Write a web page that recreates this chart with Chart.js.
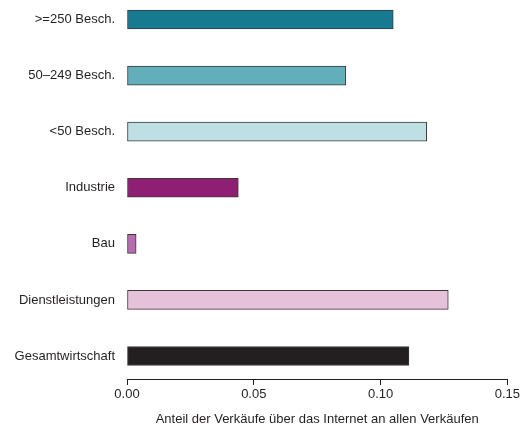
<!DOCTYPE html>
<html>
<head>
<meta charset="utf-8">
<script src="https://cdn.jsdelivr.net/npm/chart.js@4/dist/chart.umd.min.js"></script>
<style>
  html, body { margin: 0; padding: 0; background: #fff; }
  #wrap { width: 522px; height: 428px; }
</style>
</head>
<body>
<div id="wrap"><canvas id="chart"></canvas></div>
<script>
// data
const categories = ['>=250 Besch.', '50\u2013249 Besch.', '<50 Besch.', 'Industrie', 'Bau', 'Dienstleistungen', 'Gesamtwirtschaft'];
const shares = [0.105, 0.0863, 0.1182, 0.0439, 0.0036, 0.1267, 0.1112];
const barColors = ['#167B91', '#62AEBB', '#BEE0E4', '#8E1F73', '#B96BB2', '#E6C1DA', '#231F20'];
const xTicks = [0, 0.05, 0.10, 0.15];
const xTitle = 'Anteil der Verkäufe über das Internet an allen Verkäufen';

const ink = '#231F20';
const font = { family: '"Liberation Sans", Arial, sans-serif', size: 13 };

const ctx = document.getElementById('chart').getContext('2d');
new Chart(ctx, {
  type: 'bar',
  data: {
    datasets: [{
      data: categories.map((c, i) => ({ x: shares[i], y: i })),
      backgroundColor: barColors,
      borderColor: '#3a3a3a',
      borderWidth: 1,
      borderSkipped: false,
      barThickness: 19
    }]
  },
  options: {
    indexAxis: 'y',
    responsive: true,
    maintainAspectRatio: false,
    animation: false,
    layout: { padding: { left: 0, right: 14, top: 0, bottom: 0 } },
    plugins: { legend: { display: false }, tooltip: { enabled: false } },
    scales: {
      y: {
        type: 'linear',
        offset: false,
        reverse: true,
        min: -0.348,
        max: 6.41,
        afterFit: s => { s.width = 127; s.paddingTop = 0; s.paddingBottom = 0; },
        afterBuildTicks: s => { s.ticks = categories.map((c, i) => ({ value: i })); },
        ticks: {
          color: ink,
          font: font,
          padding: 12,
          callback: v => categories[v]
        },
        grid: { display: false, drawTicks: false },
        border: { display: false }
      },
      x: {
        type: 'linear',
        min: 0,
        max: 0.15,
        afterFit: s => { s.height = 49; },
        afterBuildTicks: s => { s.ticks = xTicks.map(v => ({ value: v })); },
        ticks: {
          color: ink,
          font: font,
          padding: 2,
          maxRotation: 0,
          callback: v => v.toFixed(2)
        },
        grid: { drawOnChartArea: false, drawTicks: true, tickLength: 6, color: ink },
        border: { display: true, color: ink, width: 1 },
        title: {
          display: true,
          text: xTitle,
          color: ink,
          font: font,
          padding: { top: 4, bottom: 1 }
        }
      }
    }
  }
});
</script>
</body>
</html>
